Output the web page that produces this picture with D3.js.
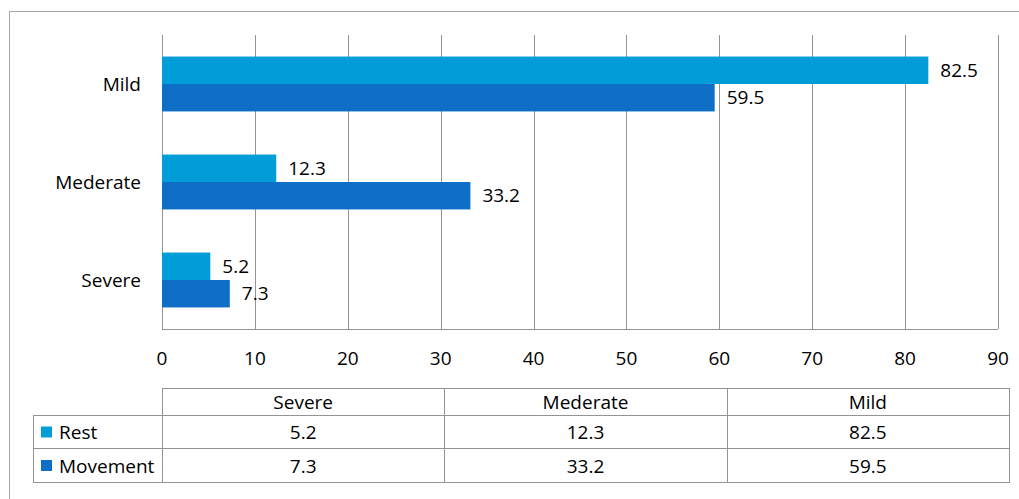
<!DOCTYPE html>
<html>
<head>
<meta charset="utf-8">
<script src="https://cdn.jsdelivr.net/npm/d3@7"></script>
<style>
  body { margin: 0; background: #fff; }
  svg { display: block; font-family: "Open Sans", sans-serif; }
</style>
</head>
<body>
<div id="chart"></div>
<script>
// levels as they appear in the data table (left to right)
const categories = ["Severe", "Mederate", "Mild"];
const seriesNames = ["Rest", "Movement"];
const restValues = [5.2, 12.3, 82.5];
const movementValues = [7.3, 33.2, 59.5];
const xTicks = [0, 10, 20, 30, 40, 50, 60, 70, 80, 90];
const colors = ["#009DD9", "#0F6FC6"];

const W = 1019, H = 499;
const plot = { left: 162, right: 998, top: 35, bottom: 329 };
const gridColor = "#949494";
const fontSize = 19;

const svg = d3.select("#chart").append("svg")
  .attr("width", W).attr("height", H);

// outer frame (runs off right/bottom edges)
svg.append("rect")
  .attr("x", 9.5).attr("y", 11.5)
  .attr("width", W).attr("height", H)
  .attr("fill", "none").attr("stroke", "#a6a6a6");

const x = d3.scaleLinear().domain([0, 90]).range([plot.left, plot.right]);
const y = d3.scaleBand().domain(categories.slice().reverse())
  .range([plot.top, plot.bottom]).paddingInner(0.44).paddingOuter(0.22);
const ySub = d3.scaleBand().domain(seriesNames).range([0, y.bandwidth()]);

// gridlines
svg.append("g").selectAll("line")
  .data(xTicks)
  .join("line")
  .attr("x1", d => Math.round(x(d)) + 0.5).attr("x2", d => Math.round(x(d)) + 0.5)
  .attr("y1", plot.top).attr("y2", plot.bottom)
  .attr("stroke", gridColor);

svg.append("line")
  .attr("x1", plot.left).attr("x2", plot.right)
  .attr("y1", plot.bottom + 0.5).attr("y2", plot.bottom + 0.5)
  .attr("stroke", gridColor);

// x tick labels
svg.append("g").selectAll("text")
  .data(xTicks)
  .join("text")
  .attr("x", d => x(d))
  .attr("y", 358)
  .attr("dy", "0.35em")
  .attr("text-anchor", "middle")
  .attr("font-size", fontSize)
  .attr("fill", "#000")
  .text(d => d);

// category labels
svg.append("g").selectAll("text")
  .data(categories)
  .join("text")
  .attr("x", 141)
  .attr("y", d => y(d) + y.bandwidth() / 2)
  .attr("dy", "0.35em")
  .attr("text-anchor", "end")
  .attr("font-size", fontSize)
  .text(d => d);

const rows = categories.map((c, i) => ({ cat: c, vals: [restValues[i], movementValues[i]] }));
const bars = rows.flatMap(r => r.vals.map((v, j) => ({ cat: r.cat, s: seriesNames[j], v, j })));

svg.append("g").selectAll("rect")
  .data(bars)
  .join("rect")
  .attr("x", x(0))
  .attr("y", d => y(d.cat) + ySub(d.s))
  .attr("width", d => x(d.v) - x(0))
  .attr("height", ySub.bandwidth())
  .attr("fill", d => colors[d.j]);

svg.append("g").selectAll("text")
  .data(bars)
  .join("text")
  .attr("x", d => x(d.v) + 12)
  .attr("y", d => y(d.cat) + ySub(d.s) + ySub.bandwidth() / 2)
  .attr("dy", "0.35em")
  .attr("font-size", fontSize)
  .text(d => d.v);

// data table
const tbl = { left: 162, right: 1009, legendLeft: 33, top: 388, rowY: [388, 415, 448, 482] };
const col = d3.scaleBand().domain(categories).range([tbl.left, tbl.right]);
const tg = svg.append("g").attr("stroke", gridColor).attr("fill", "none");

tg.append("rect")
  .attr("x", tbl.left + 0.5).attr("y", tbl.rowY[0] + 0.5)
  .attr("width", tbl.right - tbl.left).attr("height", tbl.rowY[3] - tbl.rowY[0]);
tg.append("rect")
  .attr("x", tbl.legendLeft + 0.5).attr("y", tbl.rowY[1] + 0.5)
  .attr("width", tbl.left - tbl.legendLeft).attr("height", tbl.rowY[3] - tbl.rowY[1]);
tg.selectAll(".hl")
  .data([tbl.rowY[1], tbl.rowY[2]])
  .join("line")
  .attr("x1", tbl.left).attr("x2", tbl.right)
  .attr("y1", d => d + 0.5).attr("y2", d => d + 0.5);
tg.append("line")
  .attr("x1", tbl.legendLeft).attr("x2", tbl.left)
  .attr("y1", tbl.rowY[2] + 0.5).attr("y2", tbl.rowY[2] + 0.5);
tg.selectAll(".vl")
  .data(categories.slice(1))
  .join("line")
  .attr("x1", d => Math.round(col(d)) + 0.5).attr("x2", d => Math.round(col(d)) + 0.5)
  .attr("y1", tbl.rowY[0]).attr("y2", tbl.rowY[3]);

const midY = i => (tbl.rowY[i] + tbl.rowY[i + 1]) / 2 + 1;

svg.append("g").selectAll("text")
  .data(categories)
  .join("text")
  .attr("x", d => col(d) + col.bandwidth() / 2)
  .attr("y", midY(0))
  .attr("dy", "0.35em")
  .attr("text-anchor", "middle")
  .attr("font-size", fontSize)
  .text(d => d);

[restValues, movementValues].forEach((vals, si) => {
  svg.append("g").selectAll("text")
    .data(vals)
    .join("text")
    .attr("x", (d, i) => col(categories[i]) + col.bandwidth() / 2)
    .attr("y", midY(si + 1))
    .attr("dy", "0.35em")
    .attr("text-anchor", "middle")
    .attr("font-size", fontSize)
    .text(d => d);

  svg.append("rect")
    .attr("x", 41).attr("y", midY(si + 1) - 6)
    .attr("width", 11).attr("height", 11)
    .attr("fill", colors[si]);
  svg.append("text")
    .attr("x", 59).attr("y", midY(si + 1))
    .attr("dy", "0.35em")
    .attr("font-size", fontSize)
    .text(seriesNames[si]);
});
</script>
</body>
</html>
